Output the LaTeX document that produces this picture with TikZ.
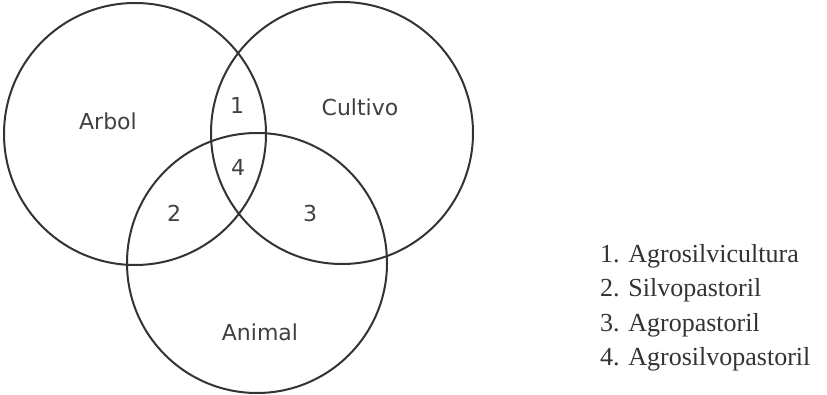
\documentclass[tikz,border=0pt]{standalone}
\usepackage{fontspec}
\setmainfont{Liberation Serif}
\newfontfamily\vennfont{DejaVu Sans}
\usetikzlibrary{positioning}

\tikzset{
    ring/.style={line width=2pt, draw=black!80},
    setname/.style={font=\vennfont\fontsize{22}{25}\selectfont, text=black!75},
    zone/.style={font=\vennfont\fontsize{22}{25}\selectfont, text=black!75},
    legitem/.style={anchor=west, inner sep=0pt, font=\fontsize{26}{30}\selectfont, text=black!80}
}

\begin{document}
\begin{tikzpicture}[x=1pt,y=-1pt]
        \useasboundingbox (0,0) rectangle (827,395);
        % the three sets
        \draw[ring] (135,134) circle (131pt);
        \draw[ring] (342,133) circle (131pt);
        \draw[ring] (257,263) circle (130pt);
        \node[setname] (arbol) at (108,121) {Arbol};
        \node[setname] (cultivo) at (360,107) {Cultivo};
        \node[setname] (animal) at (260,332) {Animal};
        % intersections
        \node[zone] (z1) at (237,105) {1};
        \node[zone] (z4) at (238,167) {4};
        \node[zone] (z2) at (174,213) {2};
        \node[zone] (z3) at (310,213) {3};
        % legend
        \node[legitem] (l1) at (600,256) {1. Agrosilvicultura};
        \node[legitem] (l2) at (600,290) {2. Silvopastoril};
        \node[legitem] (l3) at (600,325) {3. Agropastoril};
        \node[legitem] (l4) at (600,359) {4. Agrosilvopastoril};
    \end{tikzpicture}
\end{document}
